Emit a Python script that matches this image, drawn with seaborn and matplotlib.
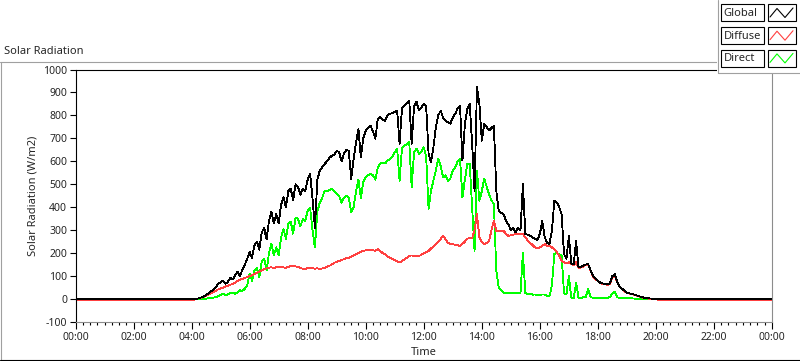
import numpy as np
import pandas as pd
import matplotlib
matplotlib.use("Agg")
import matplotlib.pyplot as plt
import seaborn as sns
from matplotlib.lines import Line2D
from matplotlib.patches import Rectangle
from matplotlib.ticker import FixedLocator, MultipleLocator

# readings every 5 minutes from 04:00 to 20:30, flat night values outside
DAY_START_HOUR = 4.0
STEP_MIN = 5
NIGHT_GLOBAL = 0
NIGHT_DIFFUSE = -4
NIGHT_DIRECT = 0

GLOBAL_DAY = [
    0, 0, 1, 3, 7, 12, 18, 25, 33, 42, 52, 66,                       # 04
    72, 80, 66, 74, 92, 85, 104, 118, 100, 128, 150, 175,            # 05
    205, 180, 235, 250, 215, 290, 310, 260, 340, 380, 330, 370,      # 06
    330, 410, 445, 400, 470, 480, 430, 500, 490, 455, 480, 470,      # 07
    520, 545, 440, 311, 520, 560, 575, 588, 600, 615, 624, 630,      # 08
    646, 640, 600, 633, 650, 646, 524, 610, 683, 741, 617, 700,      # 09
    734, 745, 755, 730, 699, 785, 792, 780, 777, 800, 807, 810,      # 10
    815, 821, 677, 830, 843, 855, 865, 677, 840, 860, 821, 835,      # 11
    851, 840, 633, 595, 661, 748, 800, 821, 790, 777, 770, 764,      # 12
    790, 807, 830, 843, 603, 760, 830, 851, 677, 472, 923, 851,      # 13
    690, 764, 750, 734, 745, 755, 472, 384, 375, 370, 340, 326,      # 14
    300, 311, 290, 311, 300, 501, 283, 280, 275, 268, 262, 258,      # 15
    283, 340, 270, 245, 239, 300, 428, 421, 400, 370, 196, 175,      # 16
    275, 155, 150, 253, 137, 140, 145, 150, 152, 125, 100, 88,       # 17
    80, 71, 68, 66, 64, 70, 100, 108, 75, 55, 45, 36,                # 18
    28, 25, 22, 20, 16, 13, 9, 6, 4, 3, 2, 1,                        # 19
    0, 0, 0, 0, 0, 0, 0,                                             # 20
]

DIFFUSE_DAY = [
    -4, -3, 1, 3, 6, 10, 15, 20, 25, 30, 36, 42,
    46, 50, 54, 58, 62, 66, 72, 78, 84, 88, 92, 96,
    100, 104, 108, 115, 120, 126, 130, 134, 137, 138, 136, 138,
    140, 142, 138, 136, 140, 144, 146, 142, 140, 135, 132, 130,
    135, 137, 135, 132, 134, 131, 133, 136, 140, 145, 150, 158,
    162, 166, 170, 174, 178, 180, 185, 190, 196, 200, 205, 210,
    212, 214, 215, 213, 210, 217, 210, 200, 196, 185, 180, 175,
    170, 165, 159, 165, 172, 180, 188, 190, 188, 188, 188, 192,
    200, 205, 210, 220, 230, 239, 250, 262, 275, 260, 245, 239,
    239, 236, 234, 232, 240, 250, 262, 268, 265, 300, 370, 268,
    250, 239, 245, 253, 300, 340, 297, 297, 297, 297, 285, 275,
    278, 280, 283, 285, 283, 283, 270, 255, 245, 235, 225, 222,
    225, 232, 239, 232, 232, 225, 215, 205, 190, 166, 160, 156,
    160, 152, 148, 160, 135, 138, 142, 148, 150, 122, 98, 86,
    78, 70, 66, 64, 62, 66, 92, 100, 72, 53, 43, 34,
    27, 24, 21, 19, 15, 12, 8, 5, 3, 2, 1, 0,
    -1, -3, -4, -4, -4, -4, -4,
]

DIRECT_DAY = [
    0, 0, 0, 0, 1, 1, 2, 3, 4, 6, 8, 12,
    18, 22, 18, 20, 25, 28, 22, 30, 38, 35, 45, 60,
    110, 80, 125, 135, 95, 165, 175, 125, 200, 240, 190, 225,
    190, 268, 305, 262, 330, 336, 285, 355, 350, 318, 348, 340,
    385, 399, 300, 224, 380, 420, 440, 472, 470, 475, 480, 470,
    460, 450, 420, 440, 450, 440, 377, 400, 470, 520, 440, 510,
    530, 540, 545, 540, 520, 573, 590, 595, 590, 603, 610, 620,
    640, 655, 515, 660, 668, 675, 683, 486, 640, 655, 633, 640,
    661, 620, 393, 472, 515, 560, 611, 580, 530, 540, 515, 525,
    560, 573, 600, 611, 442, 520, 588, 588, 399, 210, 559, 428,
    470, 524, 490, 457, 430, 413, 122, 49, 40, 28, 26, 25,
    26, 24, 26, 28, 26, 202, 26, 22, 24, 19, 20, 18,
    18, 20, 20, 15, 12, 60, 196, 200, 195, 189, 26, 20,
    100, 6, 5, 70, 6, 5, 8, 10, 45, 8, 6, 5,
    5, 5, 5, 5, 6, 8, 25, 32, 8, 4, 3, 3,
    3, 3, 3, 2, 2, 2, 1, 1, 1, 0, 0, 0,
    0, 0, 0, 0, 0, 0, 0,
]

SERIES_NAMES = ["Global", "Diffuse", "Direct"]
SERIES_COLORS = {"Global": "#000000", "Diffuse": "#ff4040", "Direct": "#00ff00"}
X_TICK_HOURS = list(range(0, 25, 2))
X_TICK_LABELS = [f"{h % 24:02d}:00" for h in X_TICK_HOURS]
Y_TICKS = list(range(-100, 1001, 100))

W_PX, H_PX = 800, 361


def fx(px):
    return px / W_PX


def fy(py):
    return 1 - py / H_PX


def build_frame():
    day_hours = DAY_START_HOUR + np.arange(len(GLOBAL_DAY)) * STEP_MIN / 60
    hours = np.concatenate([[0.0], day_hours, [24.0]])
    rows = []
    for name, day, night in [("Global", GLOBAL_DAY, NIGHT_GLOBAL),
                             ("Diffuse", DIFFUSE_DAY, NIGHT_DIFFUSE),
                             ("Direct", DIRECT_DAY, NIGHT_DIRECT)]:
        vals = [night] + list(day) + [night]
        rows.append(pd.DataFrame({"hour": hours, "value": vals, "series": name}))
    return pd.concat(rows, ignore_index=True)


sns.set_style("white")
plt.rcParams["font.family"] = ["Noto Sans", "DejaVu Sans"]

df = build_frame()

fig = plt.figure(figsize=(W_PX / 100, H_PX / 100), dpi=100)
ax = fig.add_axes([fx(75.5), fy(322), (772 - 75.5) / W_PX, (322 - 69.5) / H_PX])

# green first, black last (global line sits on top)
for name in ["Direct", "Diffuse", "Global"]:
    sns.lineplot(data=df[df["series"] == name], x="hour", y="value", ax=ax,
                 color=SERIES_COLORS[name], linewidth=0.6, legend=False,
                 antialiased=False, estimator=None)

ax.set_xlim(0, 24)
ax.set_ylim(-100, 1000)
ax.xaxis.set_major_locator(FixedLocator(X_TICK_HOURS))
ax.set_xticklabels(X_TICK_LABELS)
ax.xaxis.set_minor_locator(MultipleLocator(0.25))
ax.set_yticks(Y_TICKS)
ax.set_yticklabels([str(v) for v in Y_TICKS])

ax.tick_params(axis="x", which="major", direction="out", length=5, width=0.8,
               color="black", labelsize=7.5, pad=2, bottom=True)
ax.tick_params(axis="x", which="minor", direction="out", length=2.5, width=0.8,
               color="black", bottom=True)
ax.tick_params(axis="y", which="major", direction="out", length=4, width=0.8,
               color="black", labelsize=7.5, pad=2, left=True)

ax.set_xlabel("Time", fontsize=8, labelpad=3)
ax.set_ylabel("Solar Radiation (W/m2)", fontsize=8, labelpad=3)

for side in ["left", "top"]:
    ax.spines[side].set_color("black")
    ax.spines[side].set_linewidth(0.8)
for side in ["right", "bottom"]:
    ax.spines[side].set_color("#8c8c8c")
    ax.spines[side].set_linewidth(0.8)
ax.grid(False)

# chart panel frame and caption
fig.text(fx(4), fy(52), "Solar Radiation", fontsize=8, va="center", ha="left")
fig.add_artist(Line2D([fx(0.5), fx(0.5)], [fy(61.5), fy(359.5)], color="#a0a0a0",
                      lw=0.8, transform=fig.transFigure))
fig.add_artist(Line2D([fx(0), fx(717)], [fy(61.5), fy(61.5)], color="#a0a0a0",
                      lw=0.8, transform=fig.transFigure))
fig.add_artist(Line2D([fx(0), fx(800)], [fy(359.5), fy(359.5)], color="black",
                      lw=0.8, transform=fig.transFigure))

# plot legend panel in the top-right corner
fig.add_artist(Rectangle((fx(717), fy(72.5)), (800 - 717) / W_PX, 72.5 / H_PX,
                         facecolor="white", edgecolor="none",
                         transform=fig.transFigure, zorder=5))
fig.add_artist(Line2D([fx(717.5), fx(717.5)], [fy(0), fy(72.5)], color="#a0a0a0",
                      lw=0.8, transform=fig.transFigure, zorder=6))
fig.add_artist(Line2D([fx(717.5), fx(800)], [fy(72.5), fy(72.5)], color="#a0a0a0",
                      lw=0.8, transform=fig.transFigure, zorder=6))

row_h = 16.7
for i, name in enumerate(SERIES_NAMES):
    top = 4.5 + i * 22.7
    fig.add_artist(Rectangle((fx(720.5), fy(top + row_h)), 43 / W_PX, row_h / H_PX,
                             facecolor="white", edgecolor="black", lw=0.8,
                             transform=fig.transFigure, zorder=7))
    fig.text(fx(723.5), fy(top + row_h / 2 + 0.5), name, fontsize=8,
             va="center", ha="left", zorder=8)
    fig.add_artist(Rectangle((fx(767.5), fy(top + row_h)), 28 / W_PX, row_h / H_PX,
                             facecolor="white", edgecolor="black", lw=0.8,
                             transform=fig.transFigure, zorder=7))
    zx = [770, 777, 785, 793]
    zy = [top + 12.5, top + 4, top + 13, top + 3.5]
    fig.add_artist(Line2D([fx(v) for v in zx], [fy(v) for v in zy],
                          color=SERIES_COLORS[name], lw=0.8,
                          transform=fig.transFigure, zorder=8))

fig.savefig("out.png", dpi=100)
